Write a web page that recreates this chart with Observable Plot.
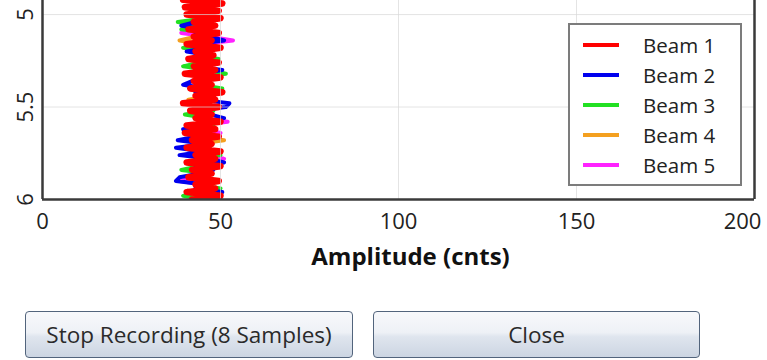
<!DOCTYPE html>
<html>
<head>
<meta charset="utf-8">
<script src="https://cdn.jsdelivr.net/npm/d3@7"></script>
<script src="https://cdn.jsdelivr.net/npm/@observablehq/plot@0.6"></script>
<style>
  html, body { margin: 0; padding: 0; background: #fff; }
  #wrap { position: relative; width: 767px; height: 360px; overflow: hidden; font-family: "Open Sans", sans-serif; }
  #legend { position: absolute; left: 568px; top: 23px; width: 174px; height: 163px; box-sizing: border-box;
            border: 2px solid #7c7c7c; background: #fff; }
  .lg-row { position: absolute; left: 0; height: 30px; width: 100%; }
  .lg-line { position: absolute; left: 13px; width: 36px; height: 4px; top: 13px; }
  .lg-text { position: absolute; left: 73px; top: 0; line-height: 30px; font-size: 20.5px; color: #222; }
  .btn { position: absolute; top: 311px; height: 47px; box-sizing: border-box; border: 1.5px solid #52647c; border-radius: 4px;
         background: linear-gradient(#f7f8fb 0%, #eef1f6 45%, #dfe5ee 55%, #ccd5e2 100%);
         font-size: 22.5px; color: #2a2a2a; display: flex; align-items: center; justify-content: center; }
</style>
</head>
<body>
<div id="wrap">
  <div id="chart"></div>
  <div id="legend"></div>
  <div class="btn" style="left:25px;width:328px;">Stop Recording (8 Samples)</div>
  <div class="btn" style="left:373px;width:327px;">Close</div>
</div>
<script>
const beams = ["Beam 1", "Beam 2", "Beam 3", "Beam 4", "Beam 5"];
const colors = ["#ff0000", "#0000ee", "#22e022", "#f4a020", "#ff22ff"];
const depth = [4.92,4.94,4.96,4.98,5.00,5.02,5.04,5.06,5.08,5.10,5.12,5.14,5.16,5.18,5.20,5.22,5.24,5.26,5.28,5.30,
  5.32,5.34,5.36,5.38,5.40,5.42,5.44,5.46,5.48,5.50,5.52,5.54,5.56,5.58,5.60,5.62,5.64,5.66,5.68,5.70,
  5.72,5.74,5.76,5.78,5.80,5.82,5.84,5.86,5.88,5.90,5.92,5.94,5.96,5.98,6.00];
const beam1 = [39.5,50.5,40,49.5,40.5,50,42.5,48.5,41,49.5, 42.5,47.5,40.5,50,43,48,41,49.5,42.5,48.5,
  40,50,42.5,47.5,41.5,50.5,43,48.5,39.5,49.5, 41.5,47.5,43,50,40.5,48.5,40,49.5,42,47.5,
  40.5,50,43,48.5,40.5,50,42,47.5,41,49.5, 43,48.5,40.5,50,42];
const beam2 = [44,47,43,48,42,47,43,39,46,43, 47,51,43,46,40.5,47,44,48,43,50.5,
  44,47,42,39.5,46,43,48,44,52.5,51.5, 43,47,51,44,46,39.5,47,43,38,46,
  37.5,45,38.5,47,51,43,48,44,38.5,37.5, 46,43,50.5,44,47];
const beam3 = [40,47,44,48,43,46,38,45,39,47, 43,48.5,44,39.5,46,43,49.5,44,39.5,47,
  51.5,43,46,44,50.5,43,47,44,46,43, 48,40,46,44,48,43,47,44,46,43,
  47,44,50,43,46,44,39,47,43,46, 44,50,43,39.5,46];
const beam4 = [44,46,43,47,44,46,43,47,44,46, 43,38.5,45,44,47,43,46,44,47,43,
  46,44,47,43,46,44,47,41,46,44, 47,43,46,44,47,43,46,44,51,43,
  46,44,47,43,46,44,47,43,46,44, 47,43,46,44,47];
const beam5 = [43,47,44,46,43,48,44,46,43,39, 47,53.5,44,46,43,47,44,46,43,47,
  44,46,43,47,44,50,43,46,44,47, 43,46,44,52,43,46,50,44,47,43,
  46,44,47,51,44,46,43,47,44,38.5, 46,43,47,44,50];
const xTicks = [0, 50, 100, 150];
const xLastTick = [200];
const yTicks = [5, 5.5, 6];
const yGrid = [5, 5.5];
const xGrid = [50, 100, 150];
const xLabel = "Amplitude (cnts)";

const series = [beam1, beam2, beam3, beam4, beam5];
// draw Beam 5 first so Beam 1 (red) ends up on top
const rows = [];
for (let b = series.length - 1; b >= 1; b--) {
  series[b].forEach((v, i) => rows.push({beam: beams[b], depth: depth[i], amp: v}));
}
const redRows = beam1.map((v, i) => ({beam: beams[0], depth: depth[i], amp: v}));

const chart = Plot.plot({
  width: 767, height: 274,
  marginLeft: 42, marginRight: 13, marginTop: 0, marginBottom: 75,
  style: {fontFamily: "'Open Sans', sans-serif", color: "#222", background: "transparent"},
  x: {domain: [0, 200]},
  y: {domain: [4.924, 6], reverse: true, axis: null},
  color: {domain: beams, range: colors},
  marks: [
    Plot.line(rows, {x: "amp", y: "depth", z: "beam", stroke: "beam", strokeWidth: 4, strokeLinejoin: "round", clip: true}),
    Plot.line(redRows, {x: "amp", y: "depth", stroke: "beam", strokeWidth: 6.5, strokeLinejoin: "round", clip: true}),
    Plot.ruleX(xGrid, {stroke: "#d8d8d8", strokeWidth: 1, strokeOpacity: 0.7}),
    Plot.ruleY(yGrid, {stroke: "#d8d8d8", strokeWidth: 1, strokeOpacity: 0.7}),
    Plot.ruleX([0, 200], {stroke: "#3a3a3a", strokeWidth: 2.5}),
    Plot.ruleY([6], {stroke: "#3a3a3a", strokeWidth: 2.5}),
    Plot.axisX(xTicks, {tickSize: 0, tickPadding: 14, fontSize: 22, label: null}),
    Plot.axisX(xLastTick, {tickSize: 0, tickPadding: 14, fontSize: 22, label: null, dx: -12}),
    Plot.text(yTicks, {y: d => d, frameAnchor: "left", textAnchor: "middle", lineAnchor: "middle", dx: -17, rotate: -90, fontSize: 22, fill: "#222"}),
    Plot.text([xLabel], {frameAnchor: "bottom", lineAnchor: "middle", dy: 58, dx: 12, fontSize: 24, fontWeight: "bold", fill: "#111"})
  ]
});
document.getElementById("chart").appendChild(chart);

const legend = document.getElementById("legend");
beams.forEach((b, i) => {
  const row = document.createElement("div");
  row.className = "lg-row";
  row.style.top = (5 + i * 30) + "px";
  row.innerHTML = `<div class="lg-line" style="background:${colors[i]}"></div><div class="lg-text">${b}</div>`;
  legend.appendChild(row);
});
</script>
</body>
</html>
